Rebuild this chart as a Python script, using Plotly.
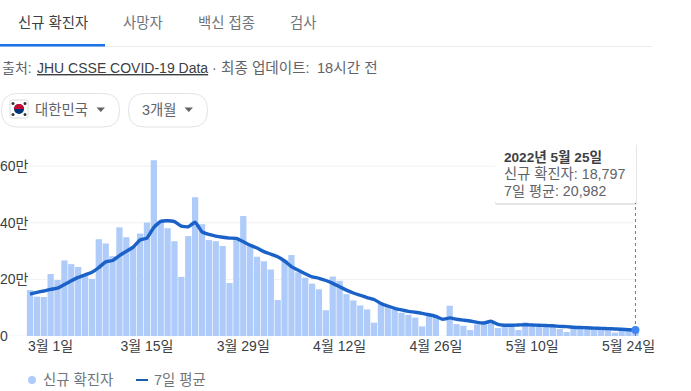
import pandas as pd
import plotly.graph_objects as go

W, H = 691, 391

dates = [d.strftime("%Y-%m-%d") for d in pd.date_range("2022-02-26", "2022-05-25")]
new_cases_man = [
    16.2, 13.9, 13.8, 21.9, 19.8, 26.7, 25.4, 24.4, 21.2, 20.2,
    34.2, 32.7, 28.2, 38.4, 34.9, 31.5, 36.2, 40.1, 62.1, 40.7,
    38.1, 33.5, 20.9, 35.3, 49.0, 39.5, 33.9, 33.5, 31.8, 18.7,
    34.7, 42.4, 32.1, 28.0, 26.4, 23.5, 12.7, 26.8, 28.6, 22.5,
    20.6, 18.5, 16.5, 9.1, 21.0, 19.5, 14.8, 12.6, 10.8, 9.4,
    4.7, 11.8, 10.4, 9.4, 8.2, 7.5, 6.5, 3.4, 7.4, 6.8,
    0.0, 10.7, 4.2, 3.6, 2.1, 4.1, 4.2, 4.5, 2.8, 3.5,
    3.5, 2.1, 4.8, 3.9, 3.3, 3.3, 3.3, 2.5, 1.4, 2.7,
    2.5, 2.5, 2.4, 2.4, 2.1, 1.2, 2.1, 2.1, 1.88,
]
avg_7d_man = [
    14.8, 15.4, 15.9, 16.5, 16.9, 18.2, 19.5, 20.7, 21.6, 22.5,
    24.2, 26.2, 26.7, 28.4, 29.9, 31.4, 33.9, 34.6, 38.4, 40.5,
    40.7, 40.4, 38.8, 38.6, 40.2, 36.8, 35.9, 35.3, 34.9, 34.6,
    34.5, 33.3, 32.1, 31.1, 29.8, 28.9, 28.0, 26.5, 24.5, 23.2,
    22.0, 20.9, 20.4, 19.6, 18.6, 17.4, 16.2, 15.2, 14.4, 13.6,
    12.9, 11.5, 10.6, 9.8, 9.2, 8.7, 8.4, 8.0, 7.5, 6.9,
    5.9, 6.4, 5.9, 5.6, 5.3, 4.8, 4.6, 5.2, 4.1, 3.8,
    3.8, 3.9, 4.0, 3.9, 3.8, 3.7, 3.6, 3.4, 3.3, 3.1,
    3.0, 2.9, 2.8, 2.7, 2.6, 2.5, 2.4, 2.2, 2.1,
]
y_tick_vals = [0, 200000, 400000, 600000]
y_tick_text = ["0", "20만", "40만", "60만"]
x_tick_vals = ["2022-03-01", "2022-03-15", "2022-03-29", "2022-04-12", "2022-04-26", "2022-05-10", "2022-05-24"]
x_tick_text = ["3월 1일", "3월 15일", "3월 29일", "4월 12일", "4월 26일", "5월 10일", "5월 24일"]

FONT = "Arial, 'Liberation Sans', 'Noto Sans CJK KR', sans-serif"
BAR = "#aecbfa"
LINE = "#1a62c8"


def px(x):
    return x / W


def py(y):
    return 1 - y / H


new_cases = [v * 10000 for v in new_cases_man]
avg_7d = [v * 10000 for v in avg_7d_man]

fig = go.Figure()
fig.add_bar(x=dates, y=new_cases, name="신규 확진자", marker=dict(color=BAR, line_width=0), hoverinfo="skip")
fig.add_scatter(x=dates, y=avg_7d, mode="lines", name="7일 평균", line=dict(color=LINE, width=3.4, shape="spline", smoothing=0.4), hoverinfo="skip")
fig.add_scatter(x=dates[-1:], y=avg_7d[-1:], mode="markers", marker=dict(color="#4285f4", size=8), cliponaxis=False, hoverinfo="skip")

shapes = []
annos = []


def text(x, y, s, size=14.4, color="#5f6368", anchor="left"):
    annos.append(dict(xref="paper", yref="paper", x=px(x), y=py(y), text=s, showarrow=False, xanchor=anchor, yanchor="middle",
                      font=dict(family=FONT, size=size, color=color), borderpad=0))


def rect(x0, y0, x1, y1, fill, line=None, layer="above"):
    shapes.append(dict(type="rect", xref="paper", yref="paper", x0=px(x0), y0=py(y0), x1=px(x1), y1=py(y1),
                       fillcolor=fill, line=dict(width=1 if line else 0, color=line or fill), layer=layer))


def rounded(x0, y0, x1, y1, r, fill, line=None, layer="above", width=1):
    X0, X1 = px(x0), px(x1)
    Y0, Y1 = py(y0), py(y1)
    rx, ry = r / W, r / H
    p = (f"M{X0+rx},{Y0} L{X1-rx},{Y0} Q{X1},{Y0} {X1},{Y0-ry} L{X1},{Y1+ry} Q{X1},{Y1} {X1-rx},{Y1} "
         f"L{X0+rx},{Y1} Q{X0},{Y1} {X0},{Y1+ry} L{X0},{Y0-ry} Q{X0},{Y0} {X0+rx},{Y0} Z")
    shapes.append(dict(type="path", xref="paper", yref="paper", path=p, fillcolor=fill,
                       line=dict(width=width if line else 0, color=line or fill), layer=layer))


def tri(x0, x1, y0, y1):
    p = f"M{px(x0)},{py(y0)} L{px(x1)},{py(y0)} L{px((x0+x1)/2)},{py(y1)} Z"
    shapes.append(dict(type="path", xref="paper", yref="paper", path=p, fillcolor="#5f6368", line_width=0))


def circle(cx, cy, r, fill):
    shapes.append(dict(type="circle", xref="paper", yref="paper", x0=px(cx - r), x1=px(cx + r), y0=py(cy + r), y1=py(cy - r),
                       fillcolor=fill, line_width=0))


def half_disc(cx, cy, r, fill):
    k = 1.33 * r
    p = (f"M{px(cx-r)},{py(cy)} C{px(cx-r)},{py(cy-k)} {px(cx+r)},{py(cy-k)} {px(cx+r)},{py(cy)} Z")
    shapes.append(dict(type="path", xref="paper", yref="paper", path=p, fillcolor=fill, line_width=0))


# tabs
text(17, 23, "신규 확진자", color="#3c4043")
text(122, 23, "사망자", color="#70757a")
text(197, 23, "백신 접종", color="#70757a")
text(289, 23, "검사", color="#70757a")
rect(0, 46, 652, 47, "#ebebeb")
rect(0, 44, 105, 46.5, "#1a73e8")
# source
text(1, 68, "출처:", size=14, color="#5f6368")
text(36, 68, "<u>JHU CSSE COVID-19 Data</u>", size=14, color="#3c4043")
text(211, 68, "·", size=14, color="#5f6368")
text(220, 68, "최종 업데이트:", size=14.6, color="#5f6368")
text(316, 68, "18시간 전", size=14.6, color="#5f6368")
# pills
rounded(1.5, 93.5, 119.5, 127, 16, "#ffffff", "#e2e3e5")
rounded(128.5, 93.5, 207.5, 127, 16, "#ffffff", "#e2e3e5")
rounded(10, 100, 28, 118, 2, "#ffffff", "#dcdcdc")
circle(19, 109, 5, "#003478")
half_disc(19, 109, 5, "#c60c30")
for cx, cy in [(13, 103.5), (25, 103.5), (13, 114.5), (25, 114.5)]:
    circle(cx, cy, 1.5, "#333333")
text(34, 110, "대한민국", color="#5f6368")
tri(96.5, 105, 107.5, 112)
text(141, 110, "3개월", color="#5f6368")
tri(184.5, 193, 107.5, 112)

# grid lines, starting where the value labels end
for v, start in zip(y_tick_vals, [7, 28, 28, 28]):
    shapes.append(dict(type="line", xref="paper", yref="y", x0=px(start), x1=px(635), y0=v, y1=v,
                       line=dict(color="#f1f1f1", width=1), layer="below"))

# tooltip
shapes.append(dict(type="line", xref="x", yref="y", x0=dates[-1], x1=dates[-1], y0=0, y1=(336 - 203) / (56.6 / 200000),
                   line=dict(color="#777777", width=1, dash="dot")))
rounded(495, 144, 637, 205, 2, "rgba(0,0,0,0.10)")
rounded(495, 143, 636, 203, 2, "#ffffff")
text(503, 157, "<b>2022년 5월 25일</b>", size=13.6, color="#3c4043")
text(503, 174, "신규 확진자: 18,797", size=14.3, color="#5f6368")
text(503, 191, "7일 평균: 20,982", size=14.2, color="#5f6368")

# legend
circle(32, 380, 4, BAR)
text(42, 380, "신규 확진자", color="#70757a")
shapes.append(dict(type="line", xref="paper", yref="paper", x0=px(136), x1=px(148), y0=py(380), y1=py(380),
                   line=dict(color="#1a5ea8", width=2)))
text(153, 380, "7일 평균", color="#70757a")

ms_day = 86400000
day_px = 6.88
x_first = pd.Timestamp(dates[0])
x_left = x_first - pd.Timedelta(milliseconds=ms_day * 30 / day_px)
x_right = x_first + pd.Timedelta(milliseconds=ms_day * (W - 30) / day_px)
top_value = (336 - 130) / (56.6 / 200000)

fig.update_layout(
    width=W, height=H, margin=dict(l=0, r=0, t=0, b=0), paper_bgcolor="#ffffff", plot_bgcolor="rgba(0,0,0,0)",
    showlegend=False, bargap=0.09, shapes=shapes, annotations=annos,
    font=dict(family=FONT, size=14, color="#3c4043"),
    xaxis=dict(domain=[0, 1], range=[x_left, x_right], type="date", tickmode="array", tickvals=x_tick_vals, ticktext=x_tick_text,
               showgrid=False, zeroline=False, showline=False, ticks="", tickangle=0, tickfont=dict(size=14, color="#3c4043"), anchor="y", automargin=False),
    yaxis=dict(domain=[py(336), py(130)], range=[0, top_value], tickmode="array", tickvals=y_tick_vals, ticktext=y_tick_text, automargin=False,
               showgrid=False, zeroline=False, showline=False, ticks="", ticklabelposition="inside", ticklabeloverflow="allow", ticklabelstandoff=-3,
               tickfont=dict(size=14, color="#3c4043")),
)
fig.write_html("out.html", config={"displayModeBar": False},
               post_script="document.body.style.margin='0';document.documentElement.style.overflow='hidden';")
